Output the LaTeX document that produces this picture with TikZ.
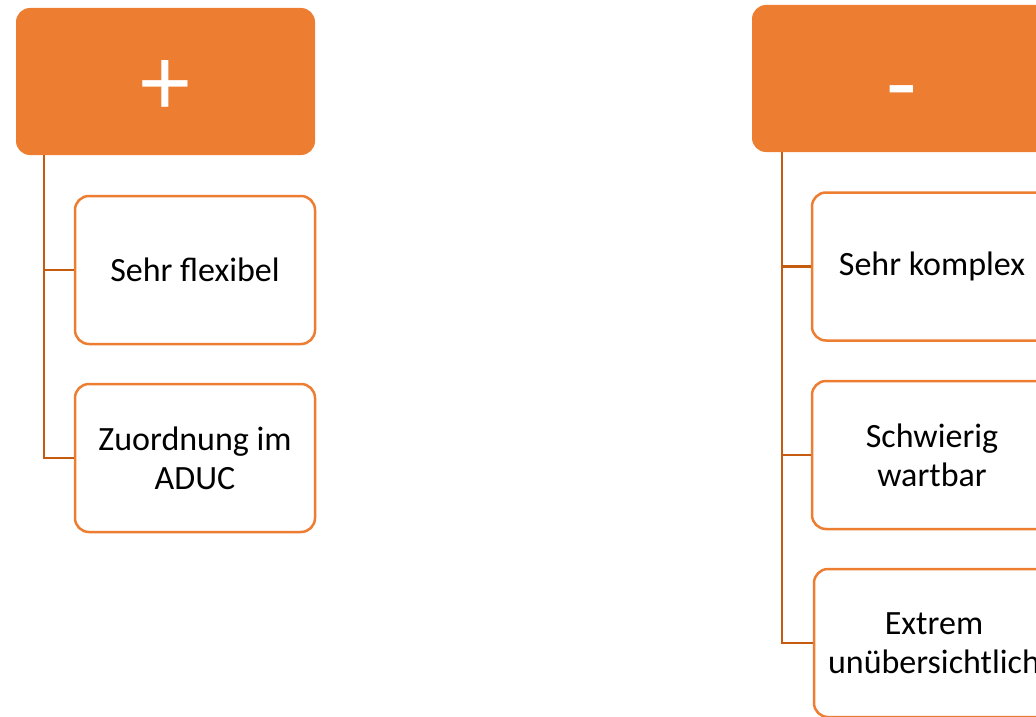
\documentclass[tikz,border=0pt]{standalone}
\usepackage{fontspec}
\setmainfont{Carlito}
\usetikzlibrary{positioning}

\definecolor{hdrorange}{HTML}{ED7D31}
\definecolor{linkbrown}{HTML}{C55A11}

\begin{document}
\begin{tikzpicture}[x=1pt, y=-1pt,
        header/.style={fill=hdrorange, rounded corners=14pt, minimum width=299pt, minimum height=147pt,
                inner sep=0pt, text=white, text height=67pt, text depth=0pt, font=\fontsize{100}{100}\selectfont},
        item/.style={draw=hdrorange, line width=2.5pt, fill=white, rounded corners=14pt,
                minimum width=240pt, minimum height=148pt, align=center, font=\fontsize{34}{39}\selectfont},
        link/.style={draw=linkbrown, line width=2.2pt}]
    \useasboundingbox (0,0) rectangle (1036,717);
    \clip (0,0) rectangle (1036,717);

    % Pro side
    \node[header] (pro) at (165.5,81.5) {+};
    \node[item] (flex) at (195,270) {Sehr flexibel};
    \node[item] (aduc) at (195,458) {Zuordnung im\\ADUC};
    \coordinate (trunkL) at (44,0);
    \draw[link] (trunkL |- pro.south) |- (aduc.west);
    \draw[link] (trunkL |- flex.west) -- (flex.west);

    % Contra side
    \node[header, text height=77pt] (contra) at (901.5,78.5) {-};
    \node[item] (komplex) at (932,266.5) {Sehr komplex};
    \node[item] (wartbar) at (932,455) {Schwierig\\wartbar};
    \node[item] (uebersicht) at (934,643) {Extrem\\unübersichtlich};
    \coordinate (trunkR) at (782,0);
    \draw[link] (trunkR |- contra.south) |- (uebersicht.west);
    \foreach \n in {komplex, wartbar} {
            \draw[link] (trunkR |- \n.west) -- (\n.west);
        }
\end{tikzpicture}
\end{document}
